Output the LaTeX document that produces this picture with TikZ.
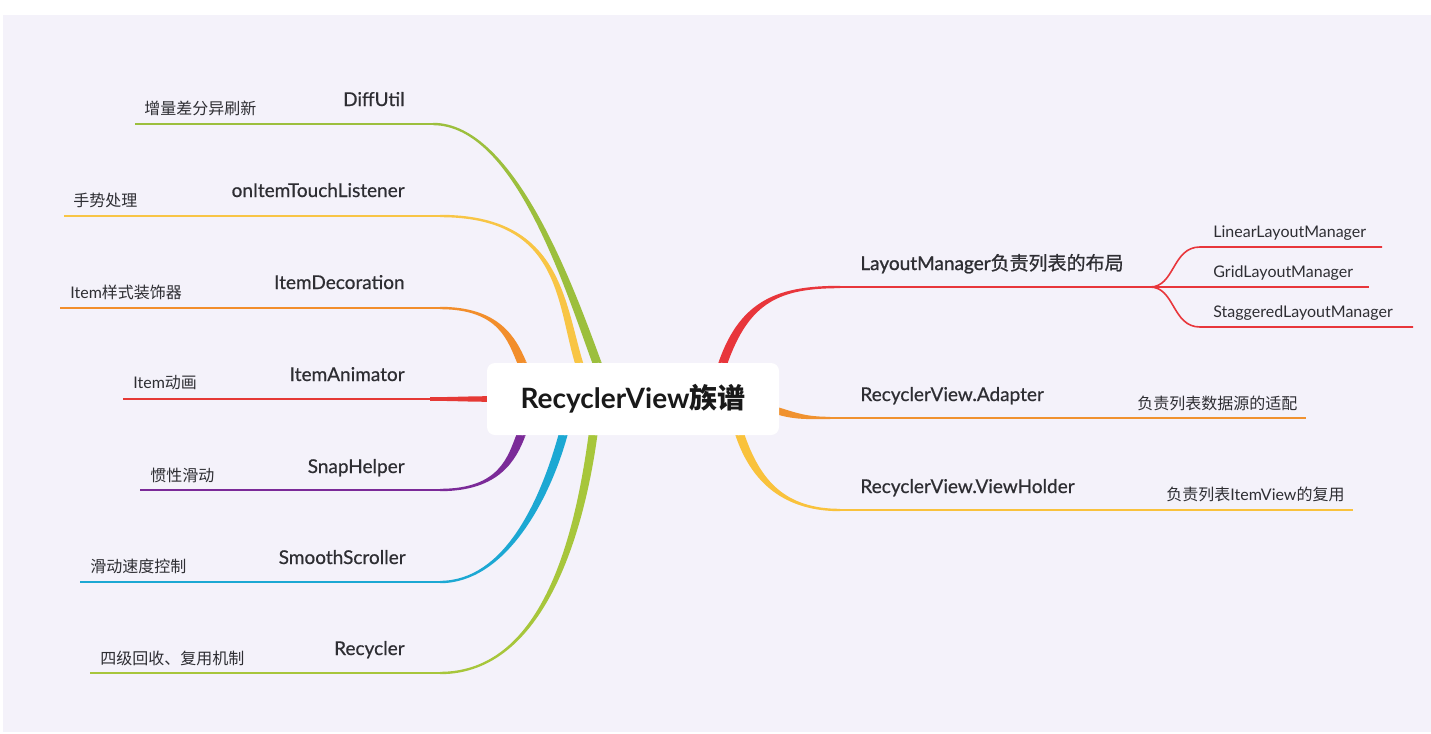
\documentclass[tikz,border=0pt]{standalone}
\usepackage{fontspec}
\setmainfont{Lato}
\newfontfamily\medfont{Lato}[FakeBold=0.6]
\newfontfamily\semifont{Lato}[FakeBold=1.2]
\newfontfamily\cjk{Noto Sans CJK SC}
\newfontfamily\cjkmed{Noto Sans CJK SC}[FakeBold=0.8]
\usetikzlibrary{calc}
\definecolor{bgl}{HTML}{F4F2FA}
\definecolor{txt}{HTML}{2E2E33}
\definecolor{cgreen}{HTML}{9CBF3D}
\definecolor{cyellow}{HTML}{F8C545}
\definecolor{corange}{HTML}{F28E2B}
\definecolor{cred}{HTML}{E53935}
\definecolor{cpurple}{HTML}{7B2A98}
\definecolor{ccyan}{HTML}{1CA8D3}
\definecolor{clime}{HTML}{A7C63B}
\definecolor{rred}{HTML}{E8363B}
\definecolor{rorange}{HTML}{F0922F}
\definecolor{ryellow}{HTML}{F9C23C}
% tapered cubic: colour, P0, C1, C2, P3, half width at P0, half width at P3
\newcommand\tbranch[7]{%
  \fill[#1] ($#2!#6!90:#3$) .. controls ($#3!#6!-90:#2$) and ($#4!#7!90:#5$) .. ($#5!#7!-90:#4$)
    -- ($#5!#7!90:#4$) .. controls ($#4!#7!-90:#5$) and ($#3!#6!90:#2$) .. ($#2!#6!-90:#3$) -- cycle;}
\begin{document}
\begin{tikzpicture}[x=0.5pt,y=-0.5pt,
  mainlbl/.style={anchor=base east, inner sep=0pt, font=\fontsize{9.5}{11}\medfont, text=txt},
  sublbl/.style={anchor=west, inner sep=0pt, font=\fontsize{8}{10}\selectfont, text=txt},
  rlbl/.style={anchor=base west, inner sep=0pt, font=\fontsize{9.5}{11}\medfont, text=txt},
  leaflbl/.style={anchor=base west, inner sep=0pt, font=\fontsize{8}{10}\selectfont, text=txt},
  thin/.style={line width=1pt},
  leafline/.style={line width=0.8pt, rred}]
\useasboundingbox (0,0) rectangle (1431,734);
\fill[white] (0,0) rectangle (1431,734);
\fill[bgl] (3,15) rectangle (1431,732);

% ---------- left branches ----------
\coordinate (g0) at (135,124); \coordinate (g1) at (433,124);
\draw[thin,cgreen] (g0) -- (g1);
\tbranch{cgreen}{(433,124)}{(515,124)}{(570,290)}{(597,363)}{0.6pt}{2.2pt}
\draw[cgreen,line width=4.4pt] (597,363) -- ($(597,363)!-12pt!(570,290)$);

\coordinate (y0) at (64,216); \coordinate (y1) at (440,216);
\draw[thin,cyellow] (y0) -- (y1);
\tbranch{cyellow}{(440,216)}{(560,216)}{(560,300)}{(579,363)}{0.6pt}{2pt}
\draw[cyellow,line width=4pt] (579,363) -- ($(579,363)!-12pt!(560,300)$);

\coordinate (o0) at (60,308); \coordinate (o1) at (440,308);
\draw[thin,corange] (o0) -- (o1);
\tbranch{corange}{(440,308)}{(500,308)}{(512,340)}{(522,363)}{0.6pt}{2.2pt}
\draw[corange,line width=4.4pt] (522,363) -- ($(522,363)!-12pt!(512,340)$);

\coordinate (r0) at (123,399); \coordinate (r1) at (430,399);
\draw[thin,cred] (r0) -- (r1);
\tbranch{cred}{(430,399)}{(450,399)}{(470,399)}{(490,399)}{0.9pt}{1.4pt}

\coordinate (p0) at (140,490); \coordinate (p1) at (440,490);
\draw[thin,cpurple] (p0) -- (p1);
\tbranch{cpurple}{(440,490)}{(500,490)}{(512,458)}{(521,435)}{0.6pt}{2.2pt}
\draw[cpurple,line width=4.4pt] (521,435) -- ($(521,435)!-12pt!(512,458)$);

\coordinate (c0) at (80,582); \coordinate (c1) at (440,582);
\draw[thin,ccyan] (c0) -- (c1);
\tbranch{ccyan}{(440,582)}{(505,582)}{(545,500)}{(563,435)}{0.6pt}{2.2pt}
\draw[ccyan,line width=4.4pt] (563,435) -- ($(563,435)!-12pt!(545,500)$);

\coordinate (l0) at (90,673); \coordinate (l1) at (440,673);
\draw[thin,clime] (l0) -- (l1);
\tbranch{clime}{(440,673)}{(545,673)}{(580,530)}{(593,435)}{0.6pt}{2.2pt}
\draw[clime,line width=4.4pt] (593,435) -- ($(593,435)!-12pt!(580,530)$);

% ---------- right branches ----------
\tbranch{rred}{(723,363)}{(745,300)}{(780,287)}{(840,287)}{2.2pt}{0.6pt}
\draw[rred,line width=4.4pt] (723,363) -- ($(723,363)!-12pt!(745,300)$);
\coordinate (lm0) at (840,287); \coordinate (split) at (1150,287);
\draw[thin,rred] (lm0) -- (split);
\coordinate (la) at (1382,247); \coordinate (gr) at (1369,287); \coordinate (st) at (1413,327);
\draw[leafline] (split) .. controls (1175,287) and (1172,247) .. (1200,247) -- (la);
\draw[leafline] (split) -- (gr);
\draw[leafline] (split) .. controls (1175,287) and (1172,327) .. (1200,327) -- (st);

\tbranch{rorange}{(778,411)}{(795,416)}{(805,418)}{(830,418)}{1.8pt}{0.6pt}
\draw[rorange,line width=3.6pt] (778,411) -- ($(778,411)!-12pt!(795,416)$);
\coordinate (ad0) at (830,418); \coordinate (ad1) at (1306,418);
\draw[thin,rorange] (ad0) -- (ad1);

\tbranch{ryellow}{(740,435)}{(756,482)}{(785,510)}{(840,510)}{2.2pt}{0.6pt}
\draw[ryellow,line width=4.4pt] (740,435) -- ($(740,435)!-12pt!(756,482)$);
\coordinate (vh0) at (840,510); \coordinate (vh1) at (1353,510);
\draw[thin,ryellow] (vh0) -- (vh1);

% ---------- root ----------
\node[fill=white, rounded corners=4pt, minimum width=146pt, minimum height=36pt, inner sep=0pt,
  font=\fontsize{14}{16}\selectfont\bfseries, text=black!90] (root) at (633,399) {RecyclerView{\cjk 族谱}};

% ---------- left labels ----------
\node[mainlbl] (diff) at (405,106) {DiffUtil};
\node[sublbl] (diffs) at (144,108) {\cjk 增量差分异刷新};
\node[mainlbl] (touch) at (405,197) {onItemTouchListener};
\node[sublbl] (touchs) at (73,200) {\cjk 手势处理};
\node[mainlbl] (deco) at (405,289) {ItemDecoration};
\node[sublbl] (decos) at (70,292) {Item{\cjk 样式装饰器}};
\node[mainlbl] (anim) at (405,381) {ItemAnimator};
\node[sublbl] (anims) at (133,383) {Item{\cjk 动画}};
\node[mainlbl] (snap) at (405,473) {SnapHelper};
\node[sublbl] (snaps) at (150,475) {\cjk 惯性滑动};
\node[mainlbl] (smooth) at (406,564) {SmoothScroller};
\node[sublbl] (smooths) at (90,566) {\cjk 滑动速度控制};
\node[mainlbl] (recy) at (405,655) {Recycler};
\node[sublbl] (recys) at (100,658) {\cjk 四级回收、复用机制};

% ---------- right labels ----------
\node[rlbl, font=\fontsize{9.5}{11}\semifont] (lm) at (860,270) {LayoutManager{\cjkmed 负责列表的布局}};
\node[leaflbl] (linear) at (1213,237) {LinearLayoutManager};
\node[leaflbl] (grid) at (1213,277) {GridLayoutManager};
\node[leaflbl] (stag) at (1213,317) {StaggeredLayoutManager};
\node[rlbl] (adapter) at (860,401) {RecyclerView.Adapter};
\node[sublbl] (adapters) at (1137,403) {\cjk 负责列表数据源的适配};
\node[rlbl] (holder) at (860,493) {RecyclerView.ViewHolder};
\node[sublbl] (holders) at (1166,494) {{\cjk 负责列表}ItemView{\cjk 的复用}};
\end{tikzpicture}
\end{document}
